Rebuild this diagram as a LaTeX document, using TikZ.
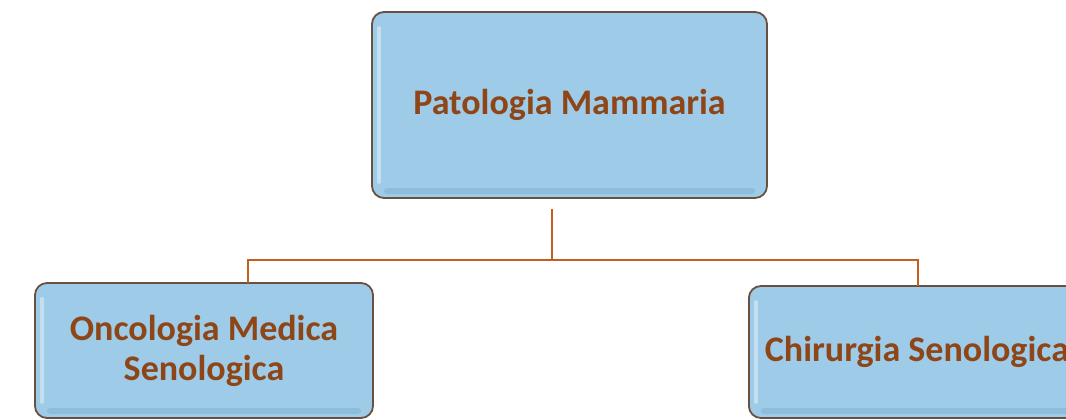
\documentclass[tikz,border=0pt]{standalone}
\usepackage{fontspec}
\setmainfont{Carlito}
\usetikzlibrary{positioning, calc}

\begin{document}
\begin{tikzpicture}[
  x=1pt, y=-1pt,
  font=\bfseries\fontsize{36}{40}\selectfont,
  unitbox/.style={
    draw=cboxline, line width=1.8pt, fill=cboxfill,
    rounded corners=12pt, text=ctext, align=center,
    path picture={
      % glossy bevel: light left rim, darker bottom rim
      \fill[white, opacity=0.4, rounded corners=2pt]
        ([xshift=5pt,yshift=-14pt]path picture bounding box.north west)
        rectangle ([xshift=9pt,yshift=14pt]path picture bounding box.south west);
      \fill[cboxshade, opacity=0.3, rounded corners=3pt]
        ([xshift=12pt,yshift=4pt]path picture bounding box.south west)
        rectangle ([xshift=-12pt,yshift=10pt]path picture bounding box.south east);
    },
  },
  link/.style={draw=clink, line width=2pt},
]
\definecolor{cboxfill}{HTML}{9DCBE8}   % light blue
\definecolor{cboxshade}{HTML}{6E9FC0}  % bevel shade
\definecolor{cboxline}{HTML}{6A5040}   % dark brown rim
\definecolor{ctext}{HTML}{8E4517}      % brown text
\definecolor{clink}{HTML}{C2611F}      % orange connector

\useasboundingbox (0,0) rectangle (1066,420);
\clip (0,0) rectangle (1066,420);

% -------- boxes --------
\node[unitbox, minimum width=395pt, minimum height=186pt] (root) at (569.5,105)
  {Patologia Mammaria};
\node[unitbox, minimum width=338pt, minimum height=135pt] (onc) at (204,350.5)
  {Oncologia Medica\\Senologica};
\node[unitbox, anchor=west, inner xsep=16pt, minimum height=132pt] (chir) at (748,352)
  {Chirurgia Senologica};

% -------- connectors --------
\coordinate (split)   at (552,260);
\coordinate (oncTop)  at (248,283);
\coordinate (chirTop) at (918,286);

\draw[link] ([yshift=-10pt]root.south -| split) -- (split);
\draw[link] (split) -| (oncTop);
\draw[link] (split) -| (chirTop);

\end{tikzpicture}
\end{document}
